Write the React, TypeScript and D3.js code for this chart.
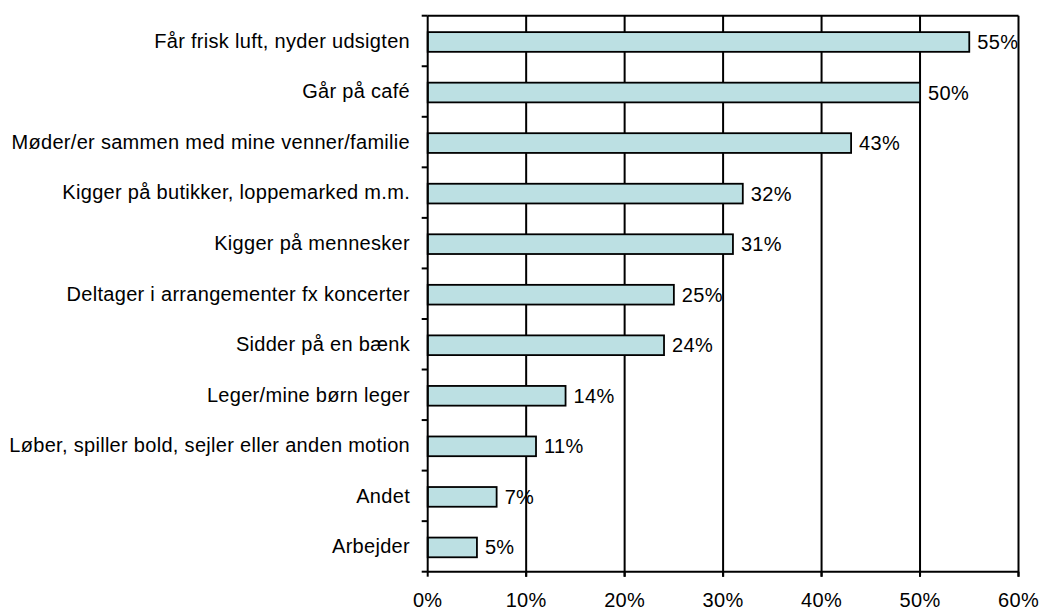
import React from 'react';
import * as d3 from 'd3';

const categories = [
  'Får frisk luft, nyder udsigten',
  'Går på café',
  'Møder/er sammen med mine venner/familie',
  'Kigger på butikker, loppemarked m.m.',
  'Kigger på mennesker',
  'Deltager i arrangementer fx koncerter',
  'Sidder på en bænk',
  'Leger/mine børn leger',
  'Løber, spiller bold, sejler eller anden motion',
  'Andet',
  'Arbejder',
];
const values = [55, 50, 43, 32, 31, 25, 24, 14, 11, 7, 5];
const xTicks = [0, 10, 20, 30, 40, 50, 60];

const width = 1040;
const height = 610;
const margin = { top: 15.7, right: 21.5, bottom: 38.3, left: 427.7 };
const font = 'Arial, "Liberation Sans", sans-serif';

const App = () => {
  const x = d3.scaleLinear().domain([0, 60]).range([margin.left, width - margin.right]);
  const y = d3
    .scaleBand()
    .domain(categories)
    .range([margin.top, height - margin.bottom])
    .paddingInner(0.61)
    .paddingOuter(0.305);
  const step = y.step();
  const top = margin.top;
  const bottom = height - margin.bottom;
  const boundaries = d3.range(categories.length + 1).map((i) => top + i * step);

  return (
    <svg width={width} height={height} style={{ position: 'absolute', left: 0, top: 0 }}>
      <rect x={0} y={0} width={width} height={height} fill="#fff" />
      {/* plot border + gridlines */}
      <line x1={x(0)} x2={x(60)} y1={top} y2={top} stroke="#000" strokeWidth={2} />
      {xTicks.slice(1).map((t) => (
        <line key={t} x1={x(t)} x2={x(t)} y1={top} y2={bottom + 5} stroke="#000" strokeWidth={2} />
      ))}
      {/* bars */}
      {categories.map((c, i) => (
        <g key={c}>
          <rect
            x={x(0)}
            y={(y(c) as number) + 1}
            width={x(values[i]) - x(0)}
            height={y.bandwidth()}
            fill="#bce0e3"
            stroke="#000"
            strokeWidth={1.8}
          />
          <text
            x={x(values[i]) + 8}
            y={(y(c) as number) + 1 + y.bandwidth() / 2}
            dy="0.35em"
            fontFamily={font}
            fontSize={20}
            letterSpacing={0.3}
            fill="#000"
          >
            {values[i]}%
          </text>
          <text
            x={410}
            y={top + (i + 0.5) * step}
            dy="0.34em"
            textAnchor="end"
            fontFamily={font}
            fontSize={20}
            letterSpacing={0.3}
            fill="#000"
          >
            {c}
          </text>
        </g>
      ))}
      {/* y axis */}
      <line x1={x(0)} x2={x(0)} y1={top} y2={bottom} stroke="#000" strokeWidth={2} />
      {boundaries.map((b, i) => (
        <line key={i} x1={x(0) - 6} x2={x(0)} y1={b} y2={b} stroke="#000" strokeWidth={2} />
      ))}
      {/* x axis */}
      <line x1={x(0)} x2={x(60)} y1={bottom} y2={bottom} stroke="#000" strokeWidth={2} />
      {xTicks.map((t) => (
        <g key={t}>
          <line x1={x(t)} x2={x(t)} y1={bottom} y2={bottom + 5} stroke="#000" strokeWidth={2} />
          <text
            x={x(t)}
            y={607}
            textAnchor="middle"
            fontFamily={font}
            fontSize={20}
            letterSpacing={0.3}
            fill="#000"
          >
            {t}%
          </text>
        </g>
      ))}
    </svg>
  );
};

export default App;
